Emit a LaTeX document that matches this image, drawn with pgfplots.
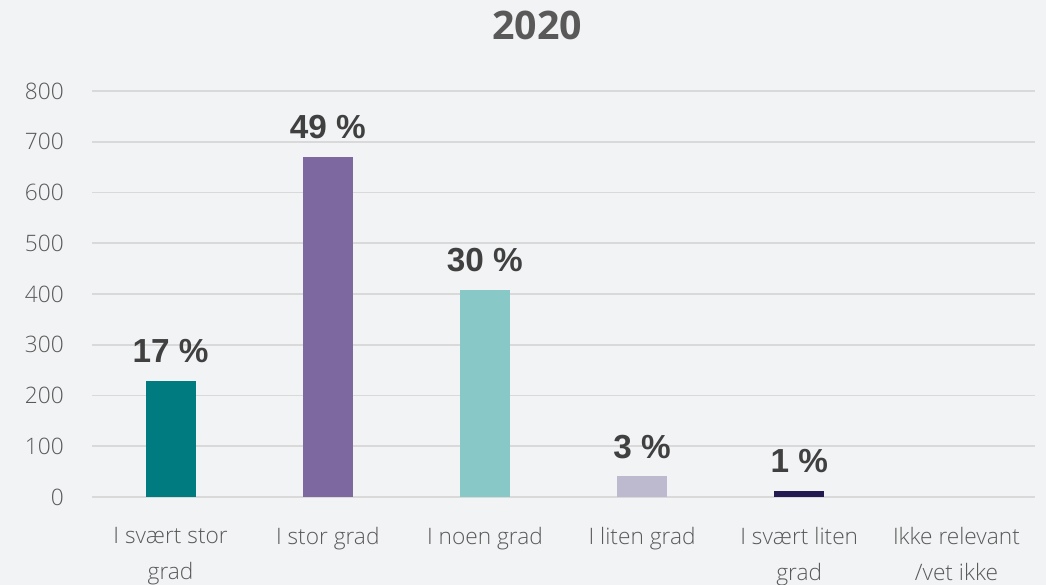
\documentclass[border=0pt]{standalone}
\usepackage{pgfplots}
\pgfplotsset{compat=1.18}
\usepackage{fontspec}
\setmainfont{Open Sans}[UprightFont={* Light}]
\newfontfamily\titlefont{Open Sans}
\newfontfamily\labfont{Liberation Sans}
\definecolor{bg}{HTML}{F2F3F5}
\definecolor{gridc}{HTML}{D9D9D9}
\definecolor{tickc}{HTML}{595959}
\definecolor{labc}{HTML}{404040}
\definecolor{c1}{HTML}{007C80}
\definecolor{c2}{HTML}{7D69A0}
\definecolor{c3}{HTML}{88C8C6}
\definecolor{c4}{HTML}{BDBAD0}
\definecolor{c5}{HTML}{231A52}
\begin{document}
\begin{tikzpicture}
\fill[bg] (-69pt,-66pt) rectangle (715.5pt,372.75pt);
\useasboundingbox (-69pt,-66pt) rectangle (715.5pt,372.75pt);
\begin{axis}[
 scale only axis, width=707.25pt, height=304.5pt,
 xmin=-0.5, xmax=5.5, ymin=0, ymax=800,
 axis line style={draw=none},
 major tick length=0pt,
 ytick={0,100,...,800},
 ymajorgrids, grid style={draw=gridc, line width=1.3pt},
 xtick={0,...,5},
 xticklabels={I svært stor\\grad, I stor grad, I noen grad, I liten grad, I svært liten\\grad, Ikke relevant\\/vet ikke},
 xticklabel style={align=center, anchor=north, inner sep=0pt, yshift=-22.5pt, font=\fontsize{17}{27}\selectfont, text=tickc},
 yticklabel style={anchor=east, inner sep=0pt, xshift=-21pt, font=\fontsize{17}{20}\selectfont, text=tickc},
 /pgf/number format/assume math mode=true,
 ybar, bar width=37.5pt, bar shift=0pt,
 nodes near coords={\pgfplotspointmeta}, point meta=explicit symbolic,
 nodes near coords style={anchor=base, inner sep=0pt, yshift=13.5pt, font=\labfont\bfseries\fontsize{25}{25}\selectfont, text=labc},
 clip=false,
]
\addplot[fill=c1, draw=none] coordinates {(0,229) [17 \%]};
\addplot[fill=c2, draw=none] coordinates {(1,670) [49 \%]};
\addplot[fill=c3, draw=none] coordinates {(2,408) [30 \%]};
\addplot[fill=c4, draw=none] coordinates {(3,41) [3 \%]};
\addplot[fill=c5, draw=none] coordinates {(4,12) [1 \%]};
\end{axis}
\node[anchor=base, inner sep=0pt, font=\titlefont\bfseries\fontsize{29.5}{30}\selectfont, text=tickc] at (333.75pt,342.75pt) {2020};
\end{tikzpicture}
\end{document}
